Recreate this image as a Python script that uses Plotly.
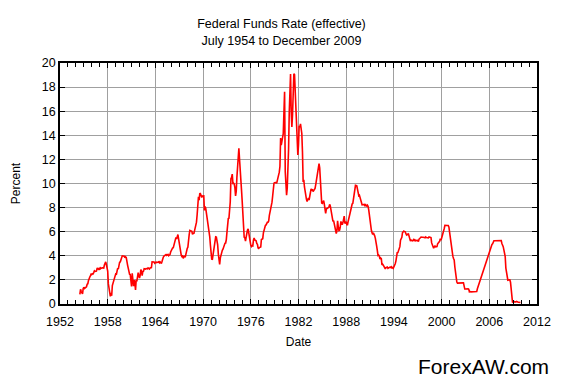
import pandas as pd
import plotly.graph_objects as go

start_month = "1954-07-01"
# Effective federal funds rate, monthly, July 1954 .. December 2009 (percent)
rate = [
    0.80, 1.22, 1.06, 0.85, 0.83, 1.28,
    1.39, 1.29, 1.35, 1.43, 1.43, 1.64, 1.68, 1.96, 2.18, 2.24, 2.35, 2.48,
    2.45, 2.50, 2.50, 2.62, 2.75, 2.71, 2.75, 2.73, 2.95, 2.96, 2.88, 2.94,
    2.84, 3.00, 2.96, 3.00, 3.00, 3.00, 2.99, 3.24, 3.47, 3.50, 3.28, 2.98,
    2.72, 1.67, 1.20, 1.26, 0.63, 0.93, 0.68, 1.53, 1.76, 1.80, 2.27, 2.42,
    2.48, 2.43, 2.80, 2.96, 2.90, 3.39, 3.47, 3.50, 3.76, 3.98, 4.00, 3.99,
    3.99, 3.97, 3.84, 3.92, 3.85, 3.32, 3.23, 2.98, 2.60, 2.47, 2.44, 1.98,
    1.45, 2.54, 2.02, 1.49, 1.98, 1.73, 1.17, 2.00, 1.88, 2.26, 2.61, 2.33,
    2.15, 2.37, 2.85, 2.78, 2.36, 2.68, 2.71, 2.93, 2.90, 2.90, 2.94, 2.93,
    2.92, 3.00, 2.98, 2.90, 3.00, 2.99, 3.02, 3.49, 3.48, 3.50, 3.48, 3.38,
    3.48, 3.48, 3.43, 3.47, 3.50, 3.50, 3.42, 3.50, 3.45, 3.36, 3.52, 3.85,
    3.90, 3.98, 4.04, 4.09, 4.10, 4.04, 4.09, 4.12, 4.01, 4.08, 4.10, 4.32,
    4.42, 4.60, 4.65, 4.67, 4.90, 5.17, 5.30, 5.53, 5.40, 5.53, 5.76, 5.40,
    4.94, 5.00, 4.53, 4.05, 3.94, 3.98, 3.79, 3.90, 3.99, 3.88, 4.13, 4.51,
    4.61, 4.71, 5.05, 5.76, 6.11, 6.07, 6.02, 6.03, 5.78, 5.91, 5.82, 6.02,
    6.30, 6.64, 6.79, 7.41, 8.67, 8.90, 8.61, 9.19, 9.15, 9.00, 8.85, 8.97,
    8.98, 8.98, 7.76, 8.10, 7.94, 7.60, 7.21, 6.61, 6.29, 6.20, 5.60, 4.90,
    4.14, 3.72, 3.71, 4.16, 4.63, 4.91, 5.31, 5.57, 5.55, 5.20, 4.91, 4.14,
    3.50, 3.29, 3.83, 4.17, 4.27, 4.46, 4.55, 4.80, 4.87, 5.04, 5.06, 5.33,
    5.94, 6.58, 7.09, 7.12, 7.84, 8.49, 10.40, 10.50, 10.78, 10.01, 10.03, 9.95,
    9.65, 8.97, 9.35, 10.51, 11.31, 11.93, 12.92, 12.01, 11.34, 10.06, 9.45, 8.53,
    7.13, 6.24, 5.54, 5.49, 5.22, 5.55, 6.10, 6.14, 6.24, 5.82, 5.22, 5.20,
    4.87, 4.77, 4.84, 4.82, 5.29, 5.48, 5.31, 5.29, 5.25, 5.03, 4.95, 4.65,
    4.61, 4.68, 4.69, 4.73, 5.35, 5.39, 5.42, 5.90, 6.14, 6.47, 6.51, 6.56,
    6.70, 6.78, 6.79, 6.89, 7.36, 7.60, 7.81, 8.04, 8.45, 8.96, 9.76, 10.03,
    10.07, 10.06, 10.09, 10.01, 10.24, 10.29, 10.47, 10.94, 11.43, 13.77, 13.18, 13.78,
    13.82, 14.13, 17.19, 17.61, 10.98, 9.47, 9.03, 9.61, 10.87, 12.81, 15.85, 18.90,
    19.08, 15.93, 14.70, 15.72, 18.52, 19.10, 19.04, 17.82, 15.87, 15.08, 13.31, 12.37,
    13.22, 14.78, 14.68, 14.94, 14.45, 14.15, 12.59, 10.12, 10.31, 9.71, 9.20, 8.95,
    8.68, 8.51, 8.77, 8.80, 8.63, 8.98, 9.37, 9.56, 9.45, 9.48, 9.34, 9.47,
    9.56, 9.59, 9.91, 10.29, 10.32, 11.06, 11.23, 11.64, 11.30, 9.99, 9.43, 8.38,
    8.35, 8.50, 8.58, 8.27, 7.97, 7.53, 7.88, 7.90, 7.92, 7.99, 8.05, 8.27,
    8.14, 7.86, 7.48, 6.99, 6.85, 6.92, 6.56, 6.17, 5.89, 5.85, 6.04, 6.91,
    6.43, 6.10, 6.13, 6.37, 6.85, 6.73, 6.58, 6.73, 7.22, 7.29, 6.69, 6.77,
    6.83, 6.58, 6.58, 6.87, 7.09, 7.51, 7.75, 8.01, 8.19, 8.30, 8.35, 8.76,
    9.12, 9.36, 9.85, 9.84, 9.81, 9.53, 9.24, 8.99, 9.02, 8.84, 8.55, 8.45,
    8.23, 8.24, 8.28, 8.26, 8.18, 8.29, 8.15, 8.13, 8.20, 8.11, 7.81, 7.31,
    6.91, 6.25, 6.12, 5.91, 5.78, 5.90, 5.82, 5.66, 5.45, 5.21, 4.81, 4.43,
    4.03, 4.06, 3.98, 3.73, 3.82, 3.76, 3.25, 3.30, 3.22, 3.10, 3.09, 2.92,
    3.02, 3.03, 3.07, 2.96, 3.00, 3.04, 3.06, 3.03, 3.09, 2.99, 3.02, 2.96,
    3.05, 3.25, 3.34, 3.56, 4.01, 4.25, 4.26, 4.47, 4.73, 4.76, 5.29, 5.45,
    5.53, 5.92, 5.98, 6.05, 6.01, 6.00, 5.85, 5.74, 5.80, 5.76, 5.80, 5.60,
    5.56, 5.22, 5.31, 5.22, 5.24, 5.27, 5.40, 5.22, 5.30, 5.24, 5.31, 5.29,
    5.25, 5.19, 5.39, 5.51, 5.50, 5.56, 5.52, 5.54, 5.54, 5.50, 5.52, 5.50,
    5.56, 5.51, 5.49, 5.45, 5.49, 5.56, 5.54, 5.55, 5.51, 5.07, 4.83, 4.68,
    4.63, 4.76, 4.81, 4.74, 4.74, 4.76, 4.99, 5.07, 5.22, 5.20, 5.42, 5.30,
    5.45, 5.73, 5.85, 6.02, 6.27, 6.53, 6.54, 6.50, 6.52, 6.51, 6.51, 6.40,
    5.98, 5.49, 5.31, 4.80, 4.21, 3.97, 3.77, 3.65, 3.07, 2.49, 2.09, 1.82,
    1.73, 1.74, 1.73, 1.75, 1.75, 1.75, 1.73, 1.74, 1.75, 1.75, 1.34, 1.24,
    1.24, 1.26, 1.25, 1.26, 1.26, 1.22, 1.01, 1.03, 1.01, 1.01, 1.00, 0.98,
    1.00, 1.01, 1.00, 1.00, 1.00, 1.03, 1.26, 1.43, 1.61, 1.76, 1.93, 2.16,
    2.28, 2.50, 2.63, 2.79, 3.00, 3.04, 3.26, 3.50, 3.62, 3.78, 4.00, 4.16,
    4.29, 4.49, 4.59, 4.79, 4.94, 4.99, 5.24, 5.25, 5.25, 5.25, 5.25, 5.24,
    5.25, 5.26, 5.26, 5.25, 5.25, 5.25, 5.26, 5.02, 4.94, 4.76, 4.49, 4.24,
    3.94, 2.98, 2.61, 2.28, 1.98, 2.00, 2.01, 2.00, 1.81, 0.97, 0.39, 0.16,
    0.15, 0.22, 0.18, 0.15, 0.18, 0.21, 0.16, 0.16, 0.15, 0.12, 0.12, 0.12,
]

dates = pd.date_range(start_month, periods=len(rate), freq="MS")
x_years = dates.year + (dates.month - 1) / 12.0

x_ticks = [1952, 1958, 1964, 1970, 1976, 1982, 1988, 1994, 2000, 2006, 2012]
y_ticks = [0, 2, 4, 6, 8, 10, 12, 14, 16, 18, 20]

FONT = "Liberation Sans, Arial, sans-serif"
GRID = "#a0a0a0"

fig = go.Figure()
fig.add_trace(go.Scatter(
    x=x_years, y=rate, mode="lines",
    line=dict(color="#ff0000", width=1.6),
    hoverinfo="x+y", showlegend=False,
))

fig.update_layout(
    width=563, height=387,
    margin=dict(l=60, r=22, t=63, b=83),
    paper_bgcolor="white", plot_bgcolor="white",
    font=dict(family=FONT, size=12, color="black"),
    title=dict(
        text="Federal Funds Rate (effective)<br>July 1954 to December 2009",
        x=0.5, xanchor="center", y=0.927, yanchor="top",
        font=dict(family=FONT, size=12.5, color="black"),
    ),
    annotations=[dict(
        text="ForexAW.com", xref="paper", yref="paper",
        x=1.03, y=-0.205, xanchor="right", yanchor="top",
        showarrow=False, font=dict(family=FONT, size=21, color="black"),
    )],
)

fig.update_xaxes(
    range=[1952, 2012], tickvals=x_ticks, ticktext=[str(t) for t in x_ticks],
    tickfont=dict(size=12.5), ticklabelstandoff=5,
    showgrid=True, gridcolor=GRID, gridwidth=1,
    showline=True, linecolor="black", linewidth=1.5, mirror="ticks",
    ticks="inside", ticklen=5, tickcolor="black",
    minor=dict(dtick=1, tick0=1952, ticks="inside", ticklen=4, tickcolor="black"),
    title=dict(text="Date", font=dict(family=FONT, size=12), standoff=10),
    zeroline=False, layer="above traces",
)
fig.update_yaxes(
    range=[0, 20], tickvals=y_ticks, tickfont=dict(size=12.5),
    showgrid=True, gridcolor=GRID, gridwidth=1,
    showline=True, linecolor="black", linewidth=1.5, mirror="ticks",
    ticks="inside", ticklen=5, tickcolor="black",
    title=dict(text="Percent", font=dict(family=FONT, size=12), standoff=19),
    zeroline=False,
)

fig.write_html("out.html", config={"displayModeBar": False},
               post_script="document.body.style.margin='0';")
